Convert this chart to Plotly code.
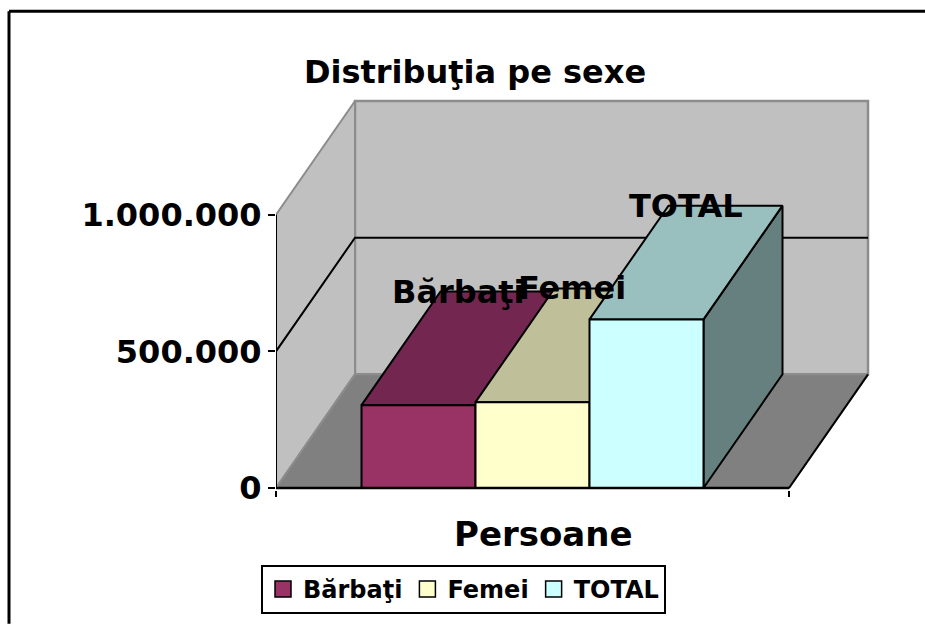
import plotly.graph_objects as go

# ---------------- data ----------------
categories = ["Bărbaţi", "Femei", "TOTAL"]
values = [303000, 314000, 617000]
y_tickvals = [0, 500000, 1000000]
y_ticktext = ["0", "500.000", "1.000.000"]
chart_title = "Distribuţia pe sexe"
x_title = "Persoane"

# ---------------- style ----------------
front_colors = ["#993366", "#FFFFCC", "#CCFFFF"]
top_colors = ["#732650", "#BFBF99", "#99BFBF"]
side_colors = ["#4D1A33", "#808066", "#668080"]
WALL = "#C0C0C0"
FLOOR = "#808080"
EDGE = "#8C8C8C"
FONT = "DejaVu Sans"

# oblique projection (depth offset, in axis units)
GAP = 0.75
FLOOR_W = len(values) + 2 * GAP
DX = 0.693
DY = 416000
WALL_TOP = max(y_tickvals)

# figure geometry
W, H = 925, 625
ML, MR, MT, MB = 276, 54, 98, 134
plot_w = W - ML - MR
plot_h = H - MT - MB
PXX = 114.0               # px per x unit
PXY = 137.0 / 500000      # px per y unit
x_range = [0, plot_w / PXX]
y_min = -2 / PXY
y_range = [y_min, y_min + plot_h / PXY]


def px_to_paper(px, py):
    return (px - ML) / plot_w, (H - MB - py) / plot_h


def poly(xs, ys, fill, lc, lw):
    return go.Scatter(x=list(xs) + [xs[0]], y=list(ys) + [ys[0]], fill="toself",
                      fillcolor=fill, mode="lines", line=dict(color=lc, width=lw),
                      showlegend=False, hoverinfo="skip")


def line(xs, ys, lc, lw):
    return go.Scatter(x=xs, y=ys, mode="lines", line=dict(color=lc, width=lw),
                      showlegend=False, hoverinfo="skip")


fig = go.Figure()

# walls and floor
fig.add_trace(poly([DX, FLOOR_W + DX, FLOOR_W + DX, DX],
                   [DY, DY, WALL_TOP + DY, WALL_TOP + DY], WALL, EDGE, 2.5))
fig.add_trace(poly([0, DX, DX, 0], [0, DY, WALL_TOP + DY, WALL_TOP], WALL, EDGE, 2))
fig.add_trace(poly([0, FLOOR_W, FLOOR_W + DX, DX], [0, 0, DY, DY], FLOOR, EDGE, 2))

# gridlines (excluding 0 and the top)
for gv in y_tickvals[1:-1]:
    fig.add_trace(line([0, DX, FLOOR_W + DX], [gv, gv + DY, gv + DY], "black", 2))

# bars
for i, v in enumerate(values):
    x0 = GAP + i
    x1 = x0 + 1
    fig.add_trace(poly([x1, x1 + DX, x1 + DX, x1], [0, DY, v + DY, v], side_colors[i], "black", 2))
    fig.add_trace(poly([x0, x1, x1 + DX, x0 + DX], [v, v, v + DY, v + DY], top_colors[i], "black", 2))
    fig.add_trace(poly([x0, x1, x1, x0], [0, 0, v, v], front_colors[i], "black", 2))

# axis lines
fig.add_trace(line([0, 0], [0, WALL_TOP], "black", 2))
fig.add_trace(line([0, FLOOR_W], [0, 0], "black", 2.5))
fig.add_trace(line([FLOOR_W, FLOOR_W + DX], [0, DY], "black", 2))

# legend entries
for i, c in enumerate(categories):
    fig.add_trace(go.Scatter(x=[None], y=[None], mode="markers", name=c,
                             marker=dict(symbol="square", size=18, color=front_colors[i],
                                         line=dict(color="black", width=1.5))))

# data labels
annotations = []
for i, v in enumerate(values):
    annotations.append(dict(x=GAP + i + 0.5 + DX / 2, y=v + DY, xref="x", yref="y",
                            text=categories[i], showarrow=False, yanchor="middle",
                            font=dict(family=FONT, size=32, color="black", weight="bold")))

ax, ay = px_to_paper(543, 535)
annotations.append(dict(x=ax, y=ay, xref="paper", yref="paper", text=x_title,
                        showarrow=False, xanchor="center", yanchor="middle",
                        font=dict(family=FONT, size=34, color="black", weight="bold")))

# chart border (left & top only; the rest is cropped)
bx0, by0 = px_to_paper(9, 11)
bx1, by1 = px_to_paper(925, 625)
shapes = [
    dict(type="line", xref="paper", yref="paper", x0=bx0, y0=by0, x1=bx1, y1=by0,
         line=dict(color="black", width=3), layer="below"),
    dict(type="line", xref="paper", yref="paper", x0=bx0, y0=by0, x1=bx0, y1=by1,
         line=dict(color="black", width=3), layer="below"),
]

lx, ly = px_to_paper(261, 565)

fig.update_layout(
    width=W, height=H,
    margin=dict(l=ML, r=MR, t=MT, b=MB, pad=0),
    paper_bgcolor="white", plot_bgcolor="white",
    title=dict(text=chart_title, x=475 / W, xanchor="center", y=1 - 72 / H, yanchor="middle",
               font=dict(family=FONT, size=32, color="black", weight="bold")),
    xaxis=dict(range=x_range, showgrid=False, zeroline=False, showline=False,
               tickvals=[0, FLOOR_W], ticktext=["", ""], ticks="outside", ticklen=6,
               tickwidth=2, tickcolor="black", fixedrange=True),
    yaxis=dict(range=y_range, showgrid=False, zeroline=False, showline=False,
               tickvals=y_tickvals, ticktext=y_ticktext, ticks="outside", ticklen=7,
               tickwidth=2, tickcolor="black",
               tickfont=dict(family=FONT, size=32, color="black", weight="bold"), fixedrange=True),
    showlegend=True,
    legend=dict(orientation="h", x=lx, y=ly, xanchor="left", yanchor="top",
                bordercolor="black", borderwidth=2, bgcolor="white",
                font=dict(family=FONT, size=24, color="black", weight="bold"),
                itemclick=False, itemdoubleclick=False),
    annotations=annotations,
    shapes=shapes,
)

fig.write_html(
    "out.html",
    config={"displayModeBar": False},
    post_script="document.documentElement.style.margin='0';document.body.style.margin='0';"
                "document.body.style.overflow='hidden';",
)
